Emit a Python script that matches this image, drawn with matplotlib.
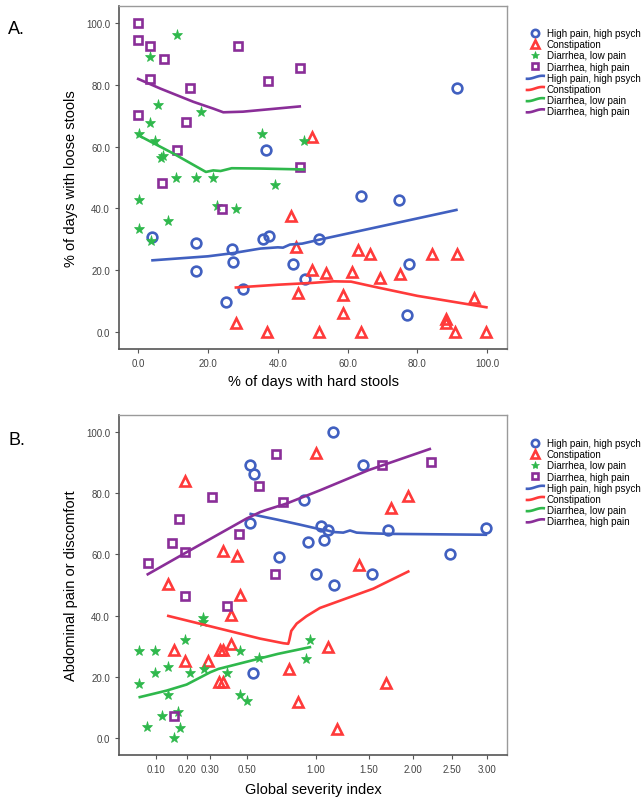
import numpy as np
import matplotlib
matplotlib.use("Agg")
import matplotlib.pyplot as plt
from matplotlib.legend_handler import HandlerLine2D
from matplotlib.lines import Line2D

plt.rcParams['font.family'] = ['Liberation Sans', 'DejaVu Sans']

groups = ["High pain, high psych", "Constipation", "Diarrhea, low pain", "Diarrhea, high pain"]
colors = ["#4160c0", "#ff3a3a", "#2fb84c", "#8a2e98"]

# ---- panel A: % hard stools vs % loose stools
a_blue_x = [36.5, 91.5, 4.1, 16.7, 16.7, 26.9, 27.2, 25.1, 29.9, 35.9, 37.5, 44.4, 47.8, 51.8, 63.8, 74.8, 77.7, 76.9]
a_blue_y = [58.8, 78.9, 30.6, 28.9, 19.8, 26.7, 22.6, 9.7, 14.0, 30.2, 31.0, 22.0, 17.2, 30.1, 43.9, 42.6, 22.0, 5.6]
a_red_x = [49.9, 43.7, 45.3, 45.7, 49.9, 27.9, 36.9, 51.8, 53.8, 63.0, 66.4, 61.3, 69.3, 74.9, 84.2, 91.5,
           58.7, 58.7, 63.8, 96.3, 88.2, 88.2, 90.7, 99.8]
a_red_y = [63.1, 37.7, 27.4, 12.6, 20.1, 2.9, 0.1, 0.0, 19.2, 26.6, 25.2, 19.3, 17.5, 18.9, 25.1, 25.1,
           12.0, 6.0, 0.1, 10.9, 4.2, 2.9, 0.0, 0.0]
a_green_x = [11.1, 3.5, 5.7, 17.9, 3.3, 0.1, 4.9, 35.6, 47.5, 6.4, 7.1, 10.8, 16.7, 21.4, 39.1,
             0.1, 22.7, 28.0, 8.4, 0.1, 3.6]
a_green_y = [96.0, 89.0, 73.4, 71.2, 67.5, 64.2, 61.8, 64.2, 61.7, 56.3, 56.9, 49.8, 49.8, 49.8, 47.7,
             42.7, 40.7, 39.8, 36.0, 33.2, 29.4]
a_purple_x = [0.0, 0.0, 3.5, 7.5, 3.5, 14.9, 28.7, 37.1, 46.3, 0.0, 13.6, 11.1, 46.4, 6.9, 24.1]
a_purple_y = [100.0, 94.5, 92.6, 88.4, 81.8, 79.1, 92.6, 81.1, 85.4, 70.1, 67.8, 59.0, 53.4, 48.2, 39.8]

a_fit_blue_x = [4.1, 20, 27, 35, 40, 41.5, 43.5, 47, 52, 91.2]
a_fit_blue_y = [23.2, 24.5, 25.5, 27.0, 27.4, 27.3, 28.3, 28.6, 29.9, 39.5]
a_fit_red_x = [28, 40, 50, 56, 61, 67, 80, 99.8]
a_fit_red_y = [14.4, 15.3, 15.9, 16.4, 16.3, 14.8, 11.7, 8.0]
a_fit_green_x = [0, 10, 19.4, 21.5, 23.6, 26.8, 35, 47.5]
a_fit_green_y = [63.7, 57.8, 51.8, 52.3, 52.1, 53.0, 52.9, 52.6]
a_fit_purple_x = [0, 6.3, 15.8, 21.5, 24.4, 30, 46.3]
a_fit_purple_y = [81.9, 78.8, 74.5, 72.3, 71.1, 71.3, 73.0]

# ---- panel B: global severity index vs abdominal pain
b_blue_x = [0.515, 0.540, 0.515, 0.706, 0.903, 0.930, 1.0, 1.043, 1.153, 1.442, 1.102, 1.073, 1.713,
            2.98, 2.48, 1.163, 1.533, 0.536]
b_blue_y = [89.3, 86.4, 70.4, 59.3, 77.7, 64.2, 53.7, 69.3, 100.0, 89.3, 67.8, 64.6, 67.8,
            68.7, 60.0, 50.1, 53.7, 21.3]
b_red_x = [0.194, 0.134, 0.363, 0.439, 0.458, 1.0, 1.945, 1.740, 1.398, 0.404, 0.155, 0.194, 0.288,
           0.348, 0.365, 0.405, 0.344, 0.365, 0.780, 0.852, 1.102, 1.688, 1.184]
b_red_y = [84.0, 50.3, 61.1, 59.6, 46.8, 93.1, 78.9, 75.3, 56.6, 40.3, 28.9, 25.3, 25.3,
           28.9, 28.9, 30.8, 18.2, 18.2, 22.6, 11.8, 29.9, 18.1, 2.9]
b_green_x = [0.059, 0.098, 0.059, 0.098, 0.136, 0.136, 0.194, 0.213, 0.269, 0.269, 0.273, 0.382,
             0.458, 0.574, 0.458, 0.497, 0.078, 0.117, 0.169, 0.174, 0.155, 0.949, 0.914]
b_green_y = [28.6, 28.6, 17.8, 21.4, 23.1, 14.2, 32.2, 21.4, 39.2, 37.9, 22.6, 21.4,
             28.6, 26.1, 14.2, 12.2, 3.8, 7.2, 8.5, 3.3, 0.0, 32.2, 25.9]
b_purple_x = [0.079, 0.148, 0.173, 0.193, 0.193, 0.309, 0.449, 0.572, 0.685, 0.740, 0.680, 0.382,
              1.644, 2.22, 0.155]
b_purple_y = [57.2, 63.6, 71.4, 60.7, 46.5, 78.6, 66.8, 82.2, 92.7, 77.1, 53.7, 43.0,
              89.3, 90.3, 7.1]

b_fit_blue_x = [0.52, 0.58, 0.70, 0.868, 1.034, 1.10, 1.153, 1.247, 1.312, 1.378, 1.5, 1.713, 2.98]
b_fit_blue_y = [73.2, 72.5, 71.3, 69.7, 68.2, 67.8, 67.3, 67.1, 67.8, 67.1, 66.9, 66.7, 66.4]
b_fit_red_x = [0.136, 0.382, 0.579, 0.74, 0.777, 0.785, 0.80, 0.842, 0.92, 1.034, 1.55, 1.945]
b_fit_red_y = [39.9, 35.2, 32.5, 31.0, 30.8, 32.0, 35.0, 37.4, 39.8, 42.5, 48.8, 54.4]
b_fit_green_x = [0.061, 0.13, 0.2, 0.30, 0.34, 0.5, 0.7, 0.949]
b_fit_green_y = [13.4, 15.5, 17.5, 21.5, 22.6, 25.0, 27.5, 29.7]
b_fit_purple_x = [0.079, 0.2, 0.35, 0.495, 0.58, 0.62, 0.765, 1.034, 1.5, 2.21]
b_fit_purple_y = [53.5, 60.7, 66.9, 71.7, 73.8, 74.5, 76.6, 80.9, 87.5, 94.4]

b_xticks = [0.10, 0.20, 0.30, 0.50, 1.00, 1.50, 2.00, 2.50, 3.00]


class WavyHandler(HandlerLine2D):
    def create_artists(self, legend, orig_handle, xdescent, ydescent, width, height, fontsize, trans):
        t = np.linspace(-np.pi * 0.55, np.pi * 0.6, 30)
        xs = np.linspace(0, width, 30) - xdescent
        ys = (height / 2 - ydescent) + height * 0.22 * np.sin(t)
        line = Line2D(xs, ys)
        self.update_prop(line, orig_handle, legend)
        line.set_transform(trans)
        return [line]


def draw_panel(ax, pts, fits):
    styles = [dict(marker='o', ms=7, mfc='none', mew=1.9),
              dict(marker='^', ms=7, mfc='none', mew=1.9),
              dict(marker='*', ms=8, mfc=colors[2], mew=0.5),
              dict(marker='s', ms=5.2, mfc='none', mew=1.9)]
    handles = []
    for (x, y), st, c, g in zip(pts, styles, colors, groups):
        h, = ax.plot(x, y, ls='none', color=c, mec=c, label=g, **st)
        handles.append(h)
    line_handles = []
    for (x, y), c, g in zip(fits, colors, groups):
        h, = ax.plot(x, y, color=c, lw=1.9, label=g)
        line_handles.append(h)
    for s in ['left', 'bottom']:
        ax.spines[s].set_color('#555555')
        ax.spines[s].set_linewidth(1.2)
    for s in ['top', 'right']:
        ax.spines[s].set_color('#9a9a9a')
        ax.spines[s].set_linewidth(1.0)
    ax.tick_params(direction='out', length=3, width=0.8, colors='#555555', labelsize=7,
                   labelcolor='#444444')
    ax.set_ylim(-5.5, 105.5)
    ax.set_yticks([0, 20, 40, 60, 80, 100])
    ax.set_yticklabels(['%.1f' % v for v in [0, 20, 40, 60, 80, 100]])
    ax.yaxis.set_label_coords(-0.105, 0.5)
    return handles + line_handles


fig = plt.figure(figsize=(6.44, 8.04), dpi=100)

ax1 = fig.add_axes([119 / 644, 1 - 350 / 804, 388 / 644, 343 / 804])
h1 = draw_panel(ax1,
                [(a_blue_x, a_blue_y), (a_red_x, a_red_y), (a_green_x, a_green_y), (a_purple_x, a_purple_y)],
                [(a_fit_blue_x, a_fit_blue_y), (a_fit_red_x, a_fit_red_y),
                 (a_fit_green_x, a_fit_green_y), (a_fit_purple_x, a_fit_purple_y)])
ax1.set_xlim(-5.5, 105.7)
ax1.set_xticks([0, 20, 40, 60, 80, 100])
ax1.set_xticklabels(['%.1f' % v for v in [0, 20, 40, 60, 80, 100]])
ax1.set_xlabel("% of days with hard stools", fontsize=10.5, labelpad=4)
ax1.set_ylabel("% of days with loose stools", fontsize=10.5)

ax2 = fig.add_axes([119 / 644, 1 - 756 / 804, 388 / 644, 340 / 804])
h2 = draw_panel(ax2,
                [(b_blue_x, b_blue_y), (b_red_x, b_red_y), (b_green_x, b_green_y), (b_purple_x, b_purple_y)],
                [(b_fit_blue_x, b_fit_blue_y), (b_fit_red_x, b_fit_red_y),
                 (b_fit_green_x, b_fit_green_y), (b_fit_purple_x, b_fit_purple_y)])
ax2.set_xscale('function', functions=(lambda v: np.sqrt(np.clip(v, 0, None)), np.square))
ax2.set_xlim(0.025, 3.30)
ax2.set_xticks(b_xticks)
ax2.set_xticklabels(['%.2f' % v for v in b_xticks])
ax2.minorticks_off()
ax2.set_xlabel("Global severity index", fontsize=10.5, labelpad=6)
ax2.set_ylabel("Abdominal pain or discomfort", fontsize=10.5)

for ax, h, ytop in [(ax1, h1, 1 - 29 / 804), (ax2, h2, 1 - 439 / 804)]:
    hm = {h[i]: WavyHandler() for i in range(4, 8)}
    fig.legend(handles=h, labels=groups + groups, loc='upper left', bbox_to_anchor=(527 / 644, ytop),
               frameon=False, fontsize=7.1, handlelength=1.7, handletextpad=0.3, labelspacing=0.12,
               borderaxespad=0, borderpad=0, markerscale=0.75, handler_map=hm)

fig.text(8 / 644, 1 - 30 / 804, "A.", fontsize=13, va='center')
fig.text(8 / 644, 1 - 441 / 804, "B.", fontsize=13, va='center')

fig.savefig("out.png", dpi=100)
